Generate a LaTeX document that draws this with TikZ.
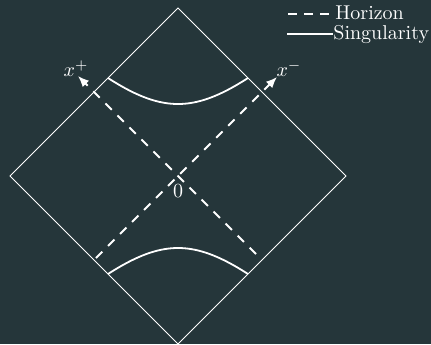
\documentclass[tikz,border=0pt]{standalone}
\usetikzlibrary{arrows.meta}
\definecolor{bgc}{RGB}{37,54,58}
\begin{document}
\begin{tikzpicture}[x=0.5pt,y=-0.5pt,
  edge/.style={draw=white,line width=0.5pt},
  sing/.style={draw=white,line width=0.9pt},
  horiz/.style={draw=white,line width=0.9pt,dash pattern=on 4.5pt off 4pt},
  lbl/.style={text=white,inner sep=0pt}]
\fill[bgc] (0,0) rectangle (431,344);
\useasboundingbox (0,0) rectangle (431,344);
% diamond
\coordinate (T) at (178,8);
\coordinate (L) at (10,176);
\coordinate (B) at (178,344);
\coordinate (R) at (346,176);
\draw[edge] (T) -- (R) -- (B) -- (L) -- cycle;
% singularities
\draw[sing] plot[domain=-70:70,samples=60,smooth] ({178+\x},{176-sqrt(0.902*\x*\x+5184)});
\draw[sing] plot[domain=-70:70,samples=60,smooth] ({178+\x},{176+sqrt(0.902*\x*\x+5184)});
% horizons
\coordinate (hp1) at (256,254);
\coordinate (hp2) at (78,76);
\coordinate (hm1) at (96,258);
\coordinate (hm2) at (277,77);
\draw[horiz,-{Latex[length=5.5pt,width=4.5pt]}] (hp1) -- (hp2);
\draw[horiz,-{Latex[length=5.5pt,width=4.5pt]}] (hm1) -- (hm2);
% labels
\node[lbl] (xp) at (76,69) {$x^+$};
\node[lbl] (xm) at (289,69) {$x^-$};
\node[lbl,anchor=base] (zero) at (178,197) {$0$};
% legend
\coordinate (l1a) at (288,14);
\coordinate (l1b) at (334,14);
\coordinate (l2a) at (287,34);
\coordinate (l2b) at (333,34);
\draw[horiz,dash pattern=on 4.5pt off 3.5pt] (l1a) -- (l1b);
\draw[sing,line width=0.6pt] (l2a) -- (l2b);
\node[lbl,anchor=base west] (hz) at (335,19) {Horizon};
\node[lbl,anchor=base west] (sg) at (333,39) {Singularity};
\end{tikzpicture}
\end{document}
